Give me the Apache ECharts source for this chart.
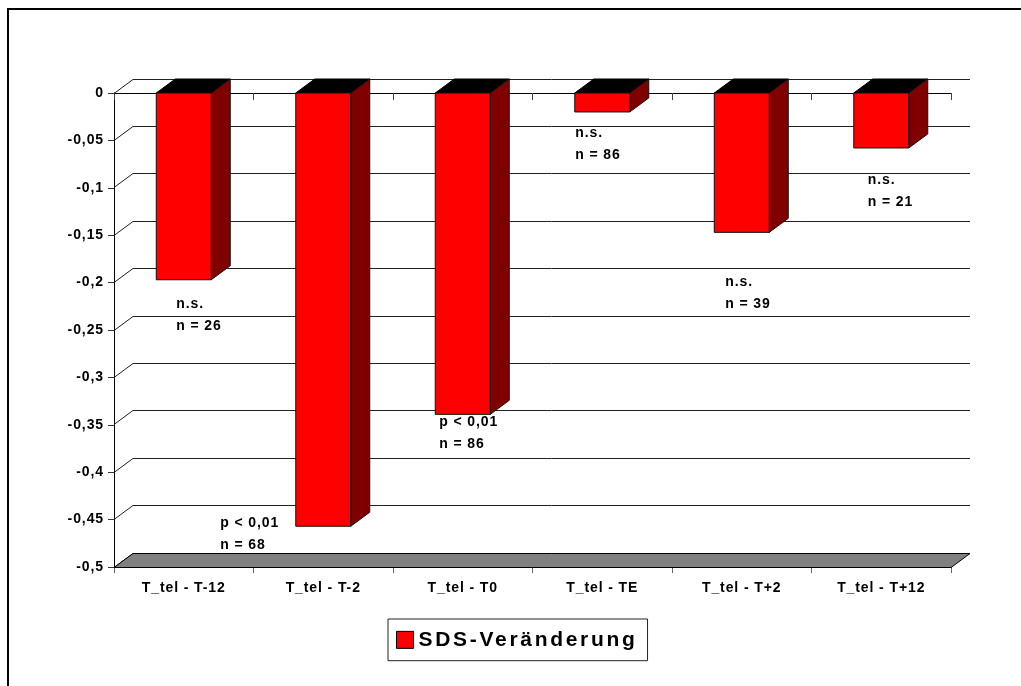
<!DOCTYPE html>
<html>
<head>
<meta charset="utf-8">
<title>SDS-Veränderung</title>
<script src="https://cdn.jsdelivr.net/npm/echarts@6/dist/echarts.min.js"></script>
<style>
  html, body { margin: 0; padding: 0; background: #fff; }
  #chart { width: 1021px; height: 686px; }
</style>
</head>
<body>
<div id="chart"></div>
<script>
// ---- data ----
const categories = ['T_tel - T-12', 'T_tel - T-2', 'T_tel - T0', 'T_tel - TE', 'T_tel - T+2', 'T_tel - T+12'];
const sdsChange = [-0.197, -0.457, -0.339, -0.020, -0.147, -0.058];
const significance = ['n.s.', 'p < 0,01', 'p < 0,01', 'n.s.', 'n.s.', 'n.s.'];
const sampleSizes = ['n = 26', 'n = 68', 'n = 86', 'n = 86', 'n = 39', 'n = 21'];
const yTicks = [0, -0.05, -0.1, -0.15, -0.2, -0.25, -0.3, -0.35, -0.4, -0.45, -0.5];
const seriesName = 'SDS-Veränderung';

// ---- layout / style ----
const FONT = '"Liberation Sans", Arial, Helvetica, sans-serif';
const DEPTH = [19, -14];              // pixel offset of the back wall (pseudo 3D)
const BAR_RATIO = 55 / 139.5;         // bar face width relative to category band
const NOTE_OFFSETS = [[20, 24], [-75.5, -3.5], [4, 8], [0.5, 21], [11, 50], [14, 32]];
const NOTE_LINE = 22;

// Wide tracking on all bold texts, as in the old office charts.
(function () {
  const P = CanvasRenderingContext2D.prototype;
  if (!('letterSpacing' in P)) return;
  const track = ctx => {
    const m = /(\d+(?:\.\d+)?)px/.exec(ctx.font || '');
    const size = m ? +m[1] : 12;
    ctx.letterSpacing = (size >= 18 ? 2.7 : 0.9) + 'px';
  };
  ['fillText', 'strokeText', 'measureText'].forEach(k => {
    const f = P[k];
    P[k] = function () { track(this); return f.apply(this, arguments); };
  });
})();

const fmtTick = v => {
  const r = Math.round(v * 100) / 100;
  return r === 0 ? '0' : String(r).replace('.', ',');
};
const crisp = v => Math.round(v - 0.5) + 0.5;

function bandEdges(api) {
  const band = api.size([1, 0])[0];
  return {
    band,
    left: api.coord([0, 0])[0] - band / 2,
    right: api.coord([categories.length - 1, 0])[0] + band / 2
  };
}

function renderWalls(params, api) {
  const { left, right } = bandEdges(api);
  const [dx, dy] = DEPTH;
  const children = [];
  yTicks.forEach(t => {
    const y = crisp(api.coord([0, t])[1]);
    children.push({
      type: 'polyline',
      shape: { points: [[left, y], [left + dx, y + dy], [right + dx, y + dy]] },
      style: { stroke: '#222', lineWidth: 1, fill: null }
    });
  });
  const fy = crisp(api.coord([0, Math.min.apply(null, yTicks)])[1]);
  children.push({
    type: 'polygon',
    shape: { points: [[left, fy], [right, fy], [right + dx, fy + dy], [left + dx, fy + dy]] },
    style: { fill: '#808080', stroke: '#000', lineWidth: 1 }
  });
  return { type: 'group', children };
}

function renderBar(params, api) {
  const ci = api.value(0), v = api.value(1);
  const band = api.size([1, 0])[0];
  const w = band * BAR_RATIO;
  const t = api.coord([ci, 0]);
  const b = api.coord([ci, v]);
  const x0 = t[0] - w / 2, x1 = t[0] + w / 2, y0 = t[1], y1 = b[1];
  const [dx, dy] = DEPTH;
  return {
    type: 'group',
    children: [
      { type: 'polygon',
        shape: { points: [[x0, y0], [x1, y0], [x1 + dx, y0 + dy], [x0 + dx, y0 + dy]] },
        style: { fill: '#000', stroke: '#000', lineWidth: 1 } },
      { type: 'polygon',
        shape: { points: [[x1, y0], [x1 + dx, y0 + dy], [x1 + dx, y1 + dy], [x1, y1]] },
        style: { fill: '#800000', stroke: '#111', lineWidth: 1 } },
      { type: 'rect',
        shape: { x: x0, y: y0, width: w, height: y1 - y0 },
        style: { fill: '#ff0000', stroke: '#111', lineWidth: 1 } }
    ]
  };
}

function renderNotes(params, api) {
  const i = params.dataIndex;
  const band = api.size([1, 0])[0];
  const c = api.coord([api.value(0), api.value(1)]);
  const x = c[0] - band * BAR_RATIO / 2 + NOTE_OFFSETS[i][0];
  const y = c[1] + NOTE_OFFSETS[i][1];
  const txt = (text, yy) => ({
    type: 'text',
    style: {
      x, y: yy, text,
      fill: '#000', fontSize: 14, fontWeight: 'bold', fontFamily: FONT,
      align: 'left', verticalAlign: 'middle'
    }
  });
  return { type: 'group', children: [txt(significance[i], y), txt(sampleSizes[i], y + NOTE_LINE)] };
}

const chart = echarts.init(document.getElementById('chart'), null, { renderer: 'canvas' });
const barData = sdsChange.map((v, i) => [i, v]);

chart.setOption({
  animation: false,
  backgroundColor: '#fff',
  textStyle: { fontFamily: FONT },
  grid: { left: 114, top: 93, width: 837, height: 474, outerBoundsMode: 'none' },
  legend: {
    left: 388, top: 619,
    padding: [9, 10, 9, 8],
    borderColor: '#222', borderWidth: 1,
    itemWidth: 17, itemHeight: 17, itemGap: 5,
    selectedMode: false,
    textStyle: { fontSize: 21, fontWeight: 'bold', color: '#000', fontFamily: FONT },
    data: [{ name: seriesName, icon: 'rect', itemStyle: { color: '#ff0000', borderColor: '#000', borderWidth: 1 } }]
  },
  xAxis: [
    {
      type: 'category', data: categories, position: 'bottom',
      axisLine: { onZero: true, lineStyle: { color: '#000', width: 1 } },
      axisTick: { show: true, length: 7, lineStyle: { color: '#444' } },
      axisLabel: { show: false },
      splitLine: { show: false }
    },
    {
      type: 'category', data: categories, position: 'bottom',
      axisLine: { onZero: false, lineStyle: { color: '#000', width: 1 } },
      axisTick: { show: true, length: 6, lineStyle: { color: '#666' } },
      axisLabel: { show: true, margin: 14, color: '#000', fontSize: 14, fontWeight: 'bold', fontFamily: FONT },
      splitLine: { show: false }
    }
  ],
  yAxis: {
    type: 'value', min: -0.5, max: 0, interval: 0.05,
    axisLine: { show: true, lineStyle: { color: '#000', width: 1 } },
    axisTick: { show: true, length: 6, lineStyle: { color: '#333' } },
    axisLabel: { margin: 10, color: '#000', fontSize: 14, fontWeight: 'bold', fontFamily: FONT, formatter: fmtTick },
    splitLine: { show: false }
  },
  graphic: [
    { type: 'line', shape: { x1: 7, y1: 9, x2: 1021, y2: 9 }, style: { stroke: '#000', lineWidth: 2 }, z: 100 },
    { type: 'line', shape: { x1: 8, y1: 8, x2: 8, y2: 686 }, style: { stroke: '#000', lineWidth: 2 }, z: 100 }
  ],
  series: [
    {
      name: 'walls', type: 'custom', renderItem: renderWalls,
      data: [[0, 0]], encode: { x: 0, y: 1 }, z: 1, silent: true
    },
    {
      name: seriesName, type: 'custom', renderItem: renderBar,
      itemStyle: { color: '#ff0000' },
      data: barData, encode: { x: 0, y: 1 }, z: 3
    },
    {
      name: 'notes', type: 'custom', renderItem: renderNotes,
      data: barData, encode: { x: 0, y: 1 }, z: 4, silent: true
    }
  ]
});
</script>
</body>
</html>
